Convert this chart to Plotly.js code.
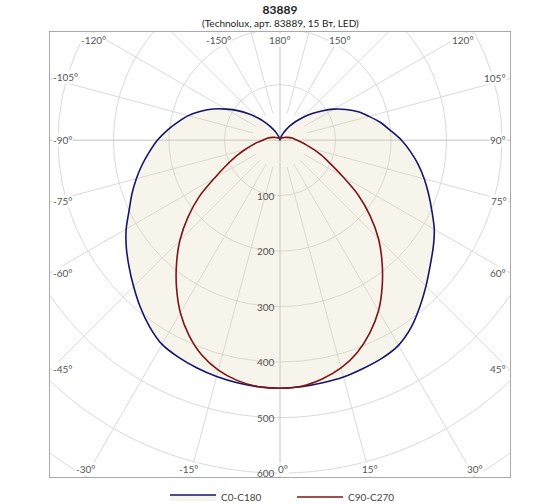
<!DOCTYPE html>
<html>
<head>
<meta charset="utf-8">
<script src="https://cdn.plot.ly/plotly-3.0.1.min.js"></script>
<style>
  html, body { margin: 0; padding: 0; background: #fff; }
  #chart { width: 560px; height: 504px; }
</style>
</head>
<body>
<div id="chart"></div>
<script>
// gamma angles (deg), 0 = straight down, 180 = straight up
const gamma = [0, 5, 10, 15, 20, 25, 30, 35, 40, 45, 50, 55, 60, 65, 70, 75, 80, 85, 90,
	95, 100, 105, 110, 115, 120, 125, 130, 135, 140, 145, 150, 155, 160, 165, 170, 175, 180];

// luminous intensity, cd/klm
const iC0 = [447, 446, 444, 442, 438, 434, 427, 412, 392, 372, 353, 337, 321, 302, 285, 269, 253, 236, 219,
	200, 184, 166, 150, 131, 112, 92, 74, 58, 44, 32, 22, 14, 8, 4, 2, 1, 0];
const iC180 = [447, 446, 444, 441, 437, 432, 425, 410, 392, 373, 355, 338, 320, 300, 284, 268, 252, 236, 221,
	204, 187, 171, 152, 133, 112, 93, 74, 57, 42, 30, 20, 12, 7, 4, 2, 1, 0];
const iC90 = [447, 445, 437, 425, 407, 383, 355, 321, 286, 251, 212, 172, 130, 100, 80, 62, 48, 38, 31,
	26, 22, 18, 15, 12, 10, 8, 7, 6, 5, 5, 5, 4, 4, 4, 4, 4, 4];
const iC270 = [447, 446, 440, 429, 412, 388, 359, 325, 290, 255, 217, 178, 136, 106, 84, 65, 51, 40, 31,
	26, 22, 18, 15, 12, 10, 8, 7, 6, 5, 5, 5, 4, 4, 4, 4, 4, 4];

const seriesNames = ['C0-C180', 'C90-C270'];
const radialTicks = [100, 200, 300, 400, 500, 600];
const gridRadii = [100, 200, 300, 400, 500, 600, 700, 800];

const FONT = 'Lato, "Open Sans", sans-serif';
const GRID = '#dadada';

// one C-plane pair -> closed outline: left half (negative angles) then right half
function planeXY(rightVals, leftVals) {
	const x = [];
	const y = [];
	for (let i = gamma.length - 1; i >= 0; i--) {
		const a = (-gamma[i] * Math.PI) / 180;
		x.push(leftVals[i] * Math.sin(a));
		y.push(-leftVals[i] * Math.cos(a));
	}
	for (let i = 1; i < gamma.length; i++) {
		const a = (gamma[i] * Math.PI) / 180;
		x.push(rightVals[i] * Math.sin(a));
		y.push(-rightVals[i] * Math.cos(a));
	}
	return { x, y };
}

const p1 = planeXY(iC0, iC180);
const p2 = planeXY(iC90, iC270);

const traces = [
	{
		x: p1.x,
		y: p1.y,
		type: 'scatter',
		mode: 'lines',
		name: seriesNames[0],
		line: { color: '#15156b', width: 1.6, shape: 'spline', smoothing: 0.8 },
		fill: 'toself',
		fillcolor: 'rgba(225,212,180,0.25)',
		hoverinfo: 'skip',
	},
	{
		x: p2.x,
		y: p2.y,
		type: 'scatter',
		mode: 'lines',
		name: seriesNames[1],
		line: { color: '#7d1515', width: 1.6, shape: 'spline', smoothing: 0.8 },
		hoverinfo: 'skip',
	},
];

// grid: circles + radial spokes every 15 deg
const shapes = [];
gridRadii.forEach((r) => {
	shapes.push({
		type: 'circle', xref: 'x', yref: 'y', layer: 'below',
		x0: -r, x1: r, y0: -r, y1: r,
		line: { color: GRID, width: 1 },
	});
});
for (let a = -165; a <= 180; a += 15) {
	const rad = (a * Math.PI) / 180;
	const r0 = a % 90 === 0 ? 0 : 50;
	shapes.push({
		type: 'line', xref: 'x', yref: 'y', layer: 'below',
		x0: r0 * Math.sin(rad), y0: -r0 * Math.cos(rad),
		x1: 1200 * Math.sin(rad), y1: -1200 * Math.cos(rad),
		line: { color: a % 90 === 0 ? '#c4c4c4' : GRID, width: 1 },
	});
}

// angle labels, pixel spots along the frame
const angleLabels = [
	['-120°', 93, 40], ['-150°', 218, 40], ['180°', 280, 40], ['150°', 340, 40], ['120°', 463, 40],
	['-105°', 65, 77], ['105°', 495, 78], ['-90°', 62, 140], ['90°', 498, 140],
	['-75°', 62, 201], ['75°', 499, 201], ['-60°', 62, 273], ['60°', 498, 273],
	['-45°', 62, 369], ['45°', 498, 369], ['-30°', 85, 469], ['-15°', 188, 469],
	['0°', 283, 469], ['15°', 370, 469], ['30°', 475, 469],
];
const L = 50, T = 32, W = 460, H = 445;
const annotations = angleLabels.map(([t, px, py]) => ({
	text: t, xref: 'paper', yref: 'paper',
	x: (px - L) / W, y: (T + H - py) / H,
	xanchor: 'center', yanchor: 'middle', showarrow: false,
	bgcolor: '#ffffff', borderpad: 0,
	font: { family: FONT, size: 10, color: '#555' },
}));
radialTicks.forEach((r) => {
	annotations.push({
		text: String(r), xref: 'x', yref: 'y', x: -6, y: -r,
		xanchor: 'right', yanchor: 'middle', showarrow: false,
		font: { family: FONT, size: 10, color: '#555' },
	});
});
// subtitle under the main title
annotations.push({
	text: '(Technolux, арт. 83889, 15 Вт, LED)',
	xref: 'paper', yref: 'paper', x: 0.5, y: (T + H - 23) / H,
	xanchor: 'center', yanchor: 'middle', showarrow: false,
	font: { family: FONT, size: 10, color: '#222' },
});

const axisBase = {
	showgrid: false, zeroline: false, showticklabels: false, ticks: '',
	showline: true, mirror: true, linecolor: '#a9a9a9', linewidth: 1,
	fixedrange: true,
};

const layout = {
	width: 560,
	height: 504,
	margin: { l: L, r: 50, t: T, b: 27, autoexpand: false },
	paper_bgcolor: '#ffffff',
	plot_bgcolor: '#ffffff',
	font: { family: FONT, color: '#333' },
	title: {
		text: '<b>83889</b>',
		font: { family: FONT, size: 12, color: '#222' },
		x: 0.5, xanchor: 'center',
		y: 1 - 10 / 504, yref: 'container', yanchor: 'middle',
	},
	xaxis: { ...axisBase, range: [-414.4, 414.4] },
	yaxis: { ...axisBase, range: [-607, 195] },
	shapes,
	annotations,
	showlegend: true,
	legend: {
		orientation: 'h',
		x: 0.5 + 12 / W, xanchor: 'center',
		y: -0.045, yanchor: 'middle',
		itemwidth: 46,
		entrywidth: 66,
		font: { family: FONT, size: 10, color: '#444' },
	},
};

Plotly.newPlot('chart', traces, layout, { displayModeBar: false, staticPlot: true });
</script>
</body>
</html>
